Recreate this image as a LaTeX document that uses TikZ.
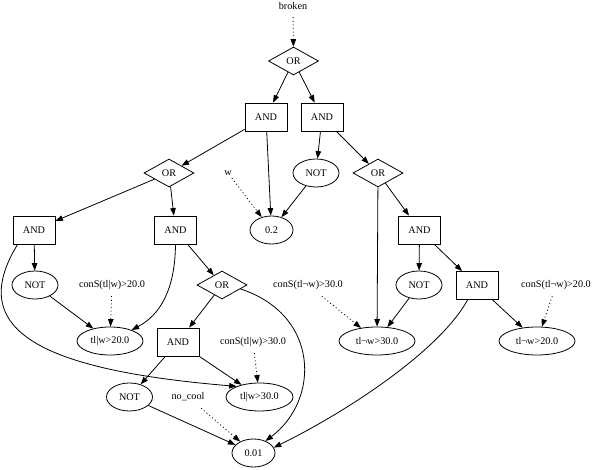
\documentclass[tikz,border=0pt]{standalone}
\usepackage{fontspec}
\setmainfont{Liberation Serif}
\usetikzlibrary{shapes.geometric,arrows.meta}
\begin{document}
\begin{tikzpicture}[x=1pt,y=-1pt,
  font=\fontsize{10.2}{12}\selectfont,
  every node/.style={inner sep=0pt},
  gate/.style={draw, line width=0.8pt, diamond, minimum width=50pt, minimum height=28pt},
  andbox/.style={draw, line width=0.8pt, rectangle, minimum width=42pt, minimum height=28pt},
  oval/.style={draw, line width=0.8pt, ellipse, minimum height=28pt},
  lbl/.style={rectangle, minimum height=22pt},
  edge/.style={-{Triangle[length=7.5pt,width=5.5pt]}, line width=0.8pt},
  dotedge/.style={edge, dash pattern=on 1pt off 2.6pt}]
\useasboundingbox (0,0) rectangle (594,470);
% text labels
\node[lbl] (broken) at (293,6) {broken};
\node[lbl] (w) at (228,173) {w};
\node[lbl] (c20) at (112,285) {conS(tl|w)>20.0};
\node[lbl] (cn30) at (308,285) {conS(tl¬w)>30.0};
\node[lbl] (cn20) at (556,285) {conS(tl¬w)>20.0};
\node[lbl] (c30) at (253,342) {conS(tl|w)>30.0};
\node[lbl] (nocool) at (188,397) {no\_cool};
% gates
\node[gate] (or1) at (293.5,61) {OR};
\node[andbox] (and1) at (266,117) {AND};
\node[andbox] (and2) at (322,117) {AND};
\node[gate] (or2) at (169,173) {OR};
\node[oval, minimum width=46pt] (not1) at (316,173) {NOT};
\node[gate] (or3) at (378,173) {OR};
\node[oval, minimum width=43pt] (p02) at (271.5,230) {0.2};
\node[andbox] (and3) at (34,230) {AND};
\node[andbox] (and4) at (175.5,230) {AND};
\node[andbox] (and5) at (419.5,230) {AND};
\node[oval, minimum width=46pt] (not2) at (35,285) {NOT};
\node[gate] (or4) at (222,285) {OR};
\node[oval, minimum width=46pt] (not3) at (419,285) {NOT};
\node[andbox] (and6) at (477,285.5) {AND};
\node[oval, minimum width=66pt] (t20) at (110,341) {tl|w>20.0};
\node[andbox] (and7) at (178,342) {AND};
\node[oval, minimum width=76pt] (tn30) at (377,341) {tl¬w>30.0};
\node[oval, minimum width=76pt] (tn20) at (537,341) {tl¬w>20.0};
\node[oval, minimum width=46pt] (not4) at (129.5,397) {NOT};
\node[oval, minimum width=67pt] (t30) at (259.5,397) {tl|w>30.0};
\node[oval, minimum width=43pt] (p001) at (253.5,453) {0.01};
% dotted edges
\draw[dotedge] (broken) -- (or1);
\draw[dotedge] (w) -- (p02);
\draw[dotedge] (c20) -- (t20);
\draw[dotedge] (cn30) -- (tn30);
\draw[dotedge] (cn20) -- (tn20);
\draw[dotedge] (c30) -- (t30);
\draw[dotedge] (nocool) -- (p001);
% solid edges
\draw[edge] (or1) -- (and1);
\draw[edge] (or1) -- (and2);
\draw[edge] (and1) -- (or2);
\draw[edge] (and1) -- (p02);
\draw[edge] (and2) -- (not1);
\draw[edge] (and2) -- (or3);
\draw[edge] (not1) -- (p02);
\draw[edge] (or2) -- (and3);
\draw[edge] (or2) -- (and4);
\draw[edge] (or3) -- (tn30);
\draw[edge] (or3) -- (and5);
\draw[edge] (and3) -- (not2);
\draw[edge] ([xshift=5pt]and3.south west) .. controls (-35,330) and (40,370) .. (t30.155);
\draw[edge] (and4.south) .. controls (175,290) and (160,315) .. (t20.27);
\draw[edge] (and4) -- (or4);
\draw[edge] (not2) -- (t20);
\draw[edge] (or4) -- (and7);
\draw[edge] (or4.-12) .. controls (320,315) and (320,400) .. (p001.45);
\draw[edge] (and5) -- (not3);
\draw[edge] (and5) -- (and6);
\draw[edge] (not3) -- (tn30);
\draw[edge] ([xshift=12pt]and6.south west) .. controls (440,350) and (350,410) .. (p001.15);
\draw[edge] (and6) -- (tn20);
\draw[edge] (and7) -- (not4);
\draw[edge] (and7) -- (t30);
\draw[edge] (not4) -- (p001);
\end{tikzpicture}
\end{document}
